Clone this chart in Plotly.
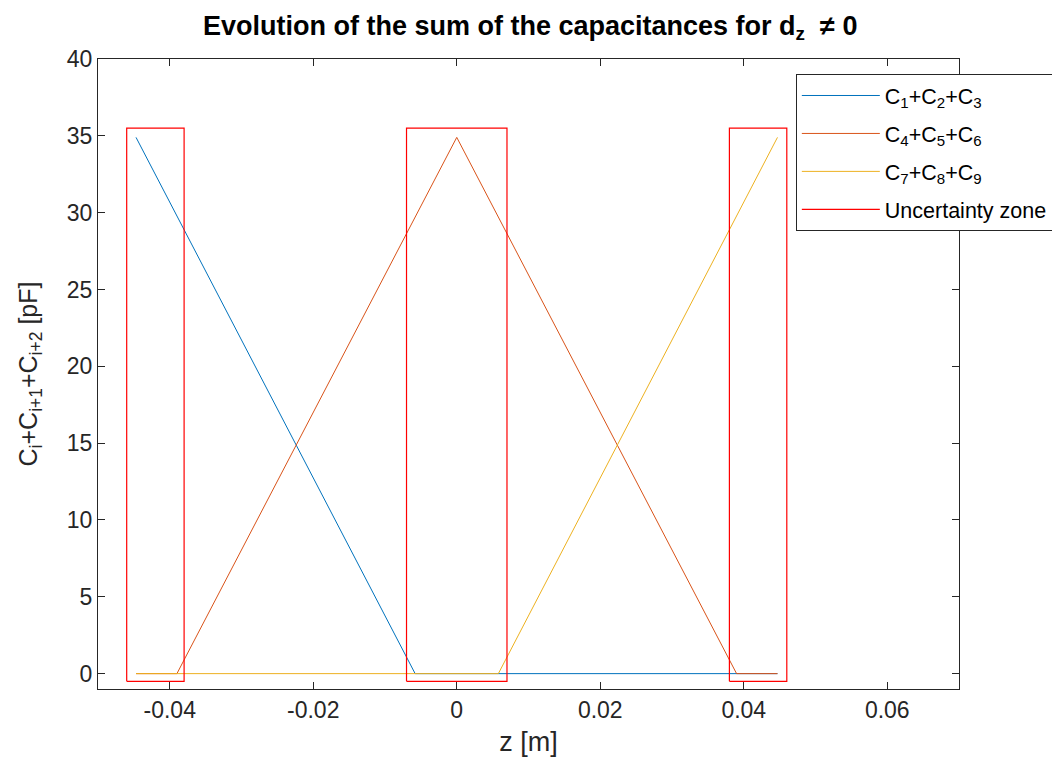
import plotly.graph_objects as go

# Summed capacitances of three neighbouring electrodes versus position z
z_sum123 = [-0.0447, -0.0058, 0.0447]
c_sum123 = [34.9, 0.0, 0.0]

z_sum456 = [-0.0447, -0.0390, 0.0, 0.0390, 0.0447]
c_sum456 = [0.0, 0.0, 34.9, 0.0, 0.0]

z_sum789 = [-0.0447, 0.0058, 0.0447]
c_sum789 = [0.0, 0.0, 34.9]

# Uncertainty zones (rectangles)
zone_left = [-0.046, -0.007, 0.038]
zone_right = [-0.038, 0.007, 0.046]
zone_bottom = -0.5
zone_top = 35.5

series_names = [
    "C<sub>1</sub>+C<sub>2</sub>+C<sub>3</sub>",
    "C<sub>4</sub>+C<sub>5</sub>+C<sub>6</sub>",
    "C<sub>7</sub>+C<sub>8</sub>+C<sub>9</sub>",
    "Uncertainty zone",
]

x_ticks = [-0.04, -0.02, 0, 0.02, 0.04, 0.06]
y_ticks = [0, 5, 10, 15, 20, 25, 30, 35, 40]

FONT = "Liberation Sans, Arial, sans-serif"
AXIS_COLOR = "#262626"

fig = go.Figure()

for i, (zs, cs, name, color) in enumerate([
    (z_sum123, c_sum123, series_names[0], "#0072BD"),
    (z_sum456, c_sum456, series_names[1], "#D95319"),
    (z_sum789, c_sum789, series_names[2], "#EDB120"),
]):
    fig.add_trace(go.Scatter(x=zs, y=cs, mode="lines", name=name,
                             legendgroup=f"g{i}",
                             line=dict(color=color, width=1)))

rx, ry = [], []
for left, right in zip(zone_left, zone_right):
    rx += [left, right, right, left, left, None]
    ry += [zone_bottom, zone_bottom, zone_top, zone_top, zone_bottom, None]
fig.add_trace(go.Scatter(x=rx, y=ry, mode="lines", name=series_names[3],
                         legendgroup="zones",
                         line=dict(color="#FF0000", width=1.2)))

axis_common = dict(
    showline=True, linecolor=AXIS_COLOR, linewidth=1, mirror="ticks",
    ticks="inside", ticklen=7, tickcolor=AXIS_COLOR, tickwidth=1,
    showgrid=False, zeroline=False,
    tickfont=dict(family=FONT, size=23, color=AXIS_COLOR),
)

fig.update_layout(
    width=1052, height=767,
    margin=dict(l=98, r=93, t=59, b=78, autoexpand=False),
    paper_bgcolor="white", plot_bgcolor="white",
    title=dict(
        text="<b>Evolution of the sum of the capacitances for d<sub>z</sub>\u00a0 \u2260 0</b>",
        font=dict(family=FONT, size=27, color="black"),
        x=0.502, xref="paper", xanchor="center", y=0.967, yanchor="middle",
    ),
    xaxis=dict(axis_common, range=[-0.05, 0.07], tickvals=x_ticks,
               ticktext=[f"{v:g}" for v in x_ticks],
               title=dict(text="z [m]", font=dict(family=FONT, size=27, color=AXIS_COLOR), standoff=10)),
    yaxis=dict(axis_common, range=[-1, 40], tickvals=y_ticks,
               title=dict(text="C<sub>i</sub>+C<sub>i+1</sub>+C<sub>i+2</sub> [pF]" + "\u00a0" * 5,
                          font=dict(family=FONT, size=25, color=AXIS_COLOR), standoff=22)),
    legend=dict(
        xref="container", yref="container",
        x=0.7565, y=0.9035, xanchor="left", yanchor="top",
        bgcolor="white", bordercolor=AXIS_COLOR, borderwidth=1,
        font=dict(family=FONT, size=21.5, color="black"),
        itemwidth=78, tracegroupgap=7,
    ),
    showlegend=True,
)

fig.write_html("out.html")
